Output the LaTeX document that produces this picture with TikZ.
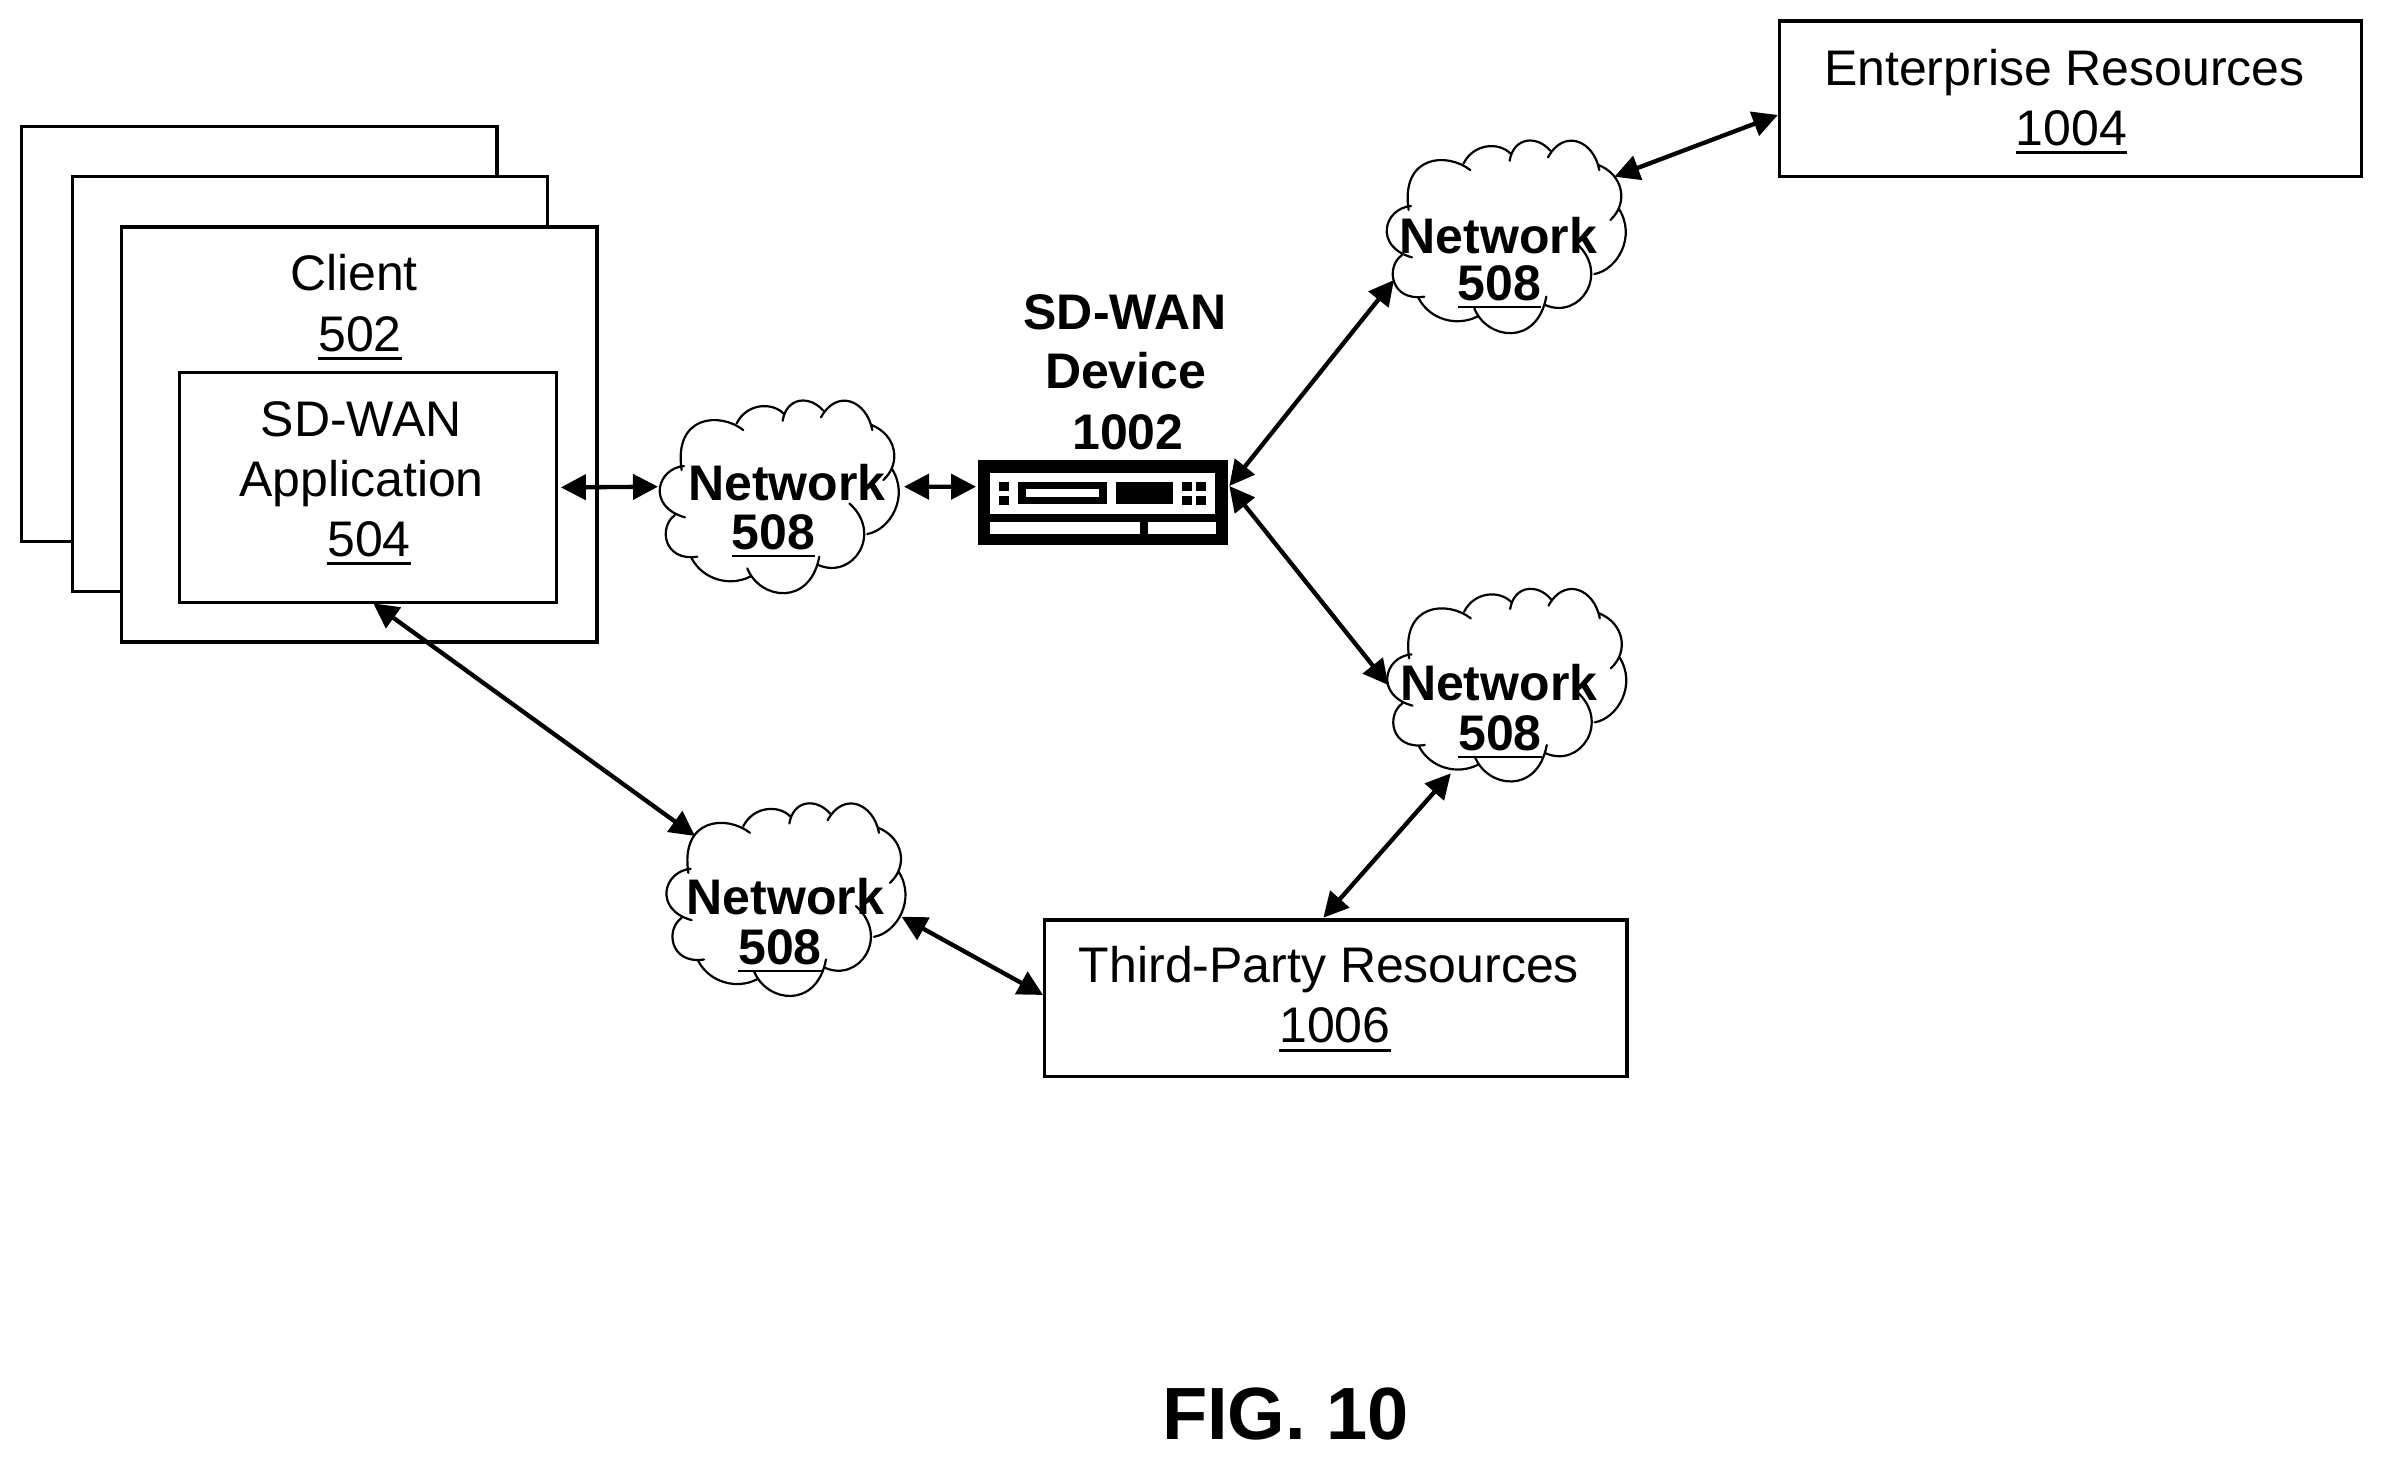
\documentclass[tikz,border=0pt]{standalone}
\usepackage{fontspec}
\setmainfont{Liberation Sans}
\usetikzlibrary{arrows.meta}
\tikzset{
  boxnode/.style={draw=black, line width=.95pt, fill=white, inner sep=0pt},
  clientbox/.style={boxnode, minimum width=142.6pt, minimum height=124.5pt},
  plainlabel/.style={anchor=base, inner sep=0pt, font=\fontsize{15}{18}\selectfont},
  boldlabel/.style={plainlabel, font=\fontsize{15}{18}\selectfont\bfseries},
  link/.style={line width=1.3pt, {Triangle[length=7.5pt,width=7.5pt]}-{Triangle[length=7.5pt,width=7.5pt]}},
  cloudline/.style={line width=.66pt, line cap=round}
}
\newcommand*{\RefNum}[2][.9pt]{\vtop{\hbox{#2}\kern1.6pt\hrule height #1}}
\newcommand*{\NetCloud}[7]{% #1 = name, #2/#3 = centre, #4/#5 = title, #6/#7 = number
  \node [minimum width=72pt, minimum height=58pt] (#1) at (#2,#3) {};
  \begin{scope}[shift={(#2,#3)}, scale=.3333, shift={(-418,-350)}]
    \draw[cloudline]
      (132,258) .. controls (50,265) and (20,380) .. (135,412)
      (105,405) .. controls (55,440) and (70,545) .. (172,530)
      (155,535) .. controls (190,600) and (270,620) .. (330,590)
      (322,565) .. controls (360,660) and (510,680) .. (538,530)
      (535,555) .. controls (640,600) and (730,460) .. (628,370)
      (682,462) .. controls (750,450) and (810,350) .. (755,265)
      (730,300) .. controls (785,250) and (770,165) .. (695,135)
      (697,150) .. controls (680,60) and (590,25) .. (543,112)
      (550,92) .. controls (510,45) and (440,50) .. (428,122)
      (430,100) .. controls (395,65) and (320,70) .. (290,130)
      (310,150) .. controls (240,95) and (100,105) .. (125,270);
  \end{scope}
  \node [boldlabel] (#1title) at (#4,#5) {Network};
  \node [boldlabel] (#1num) at (#6,#7) {\RefNum[.6pt]{508}};
}

\begin{document}
\begin{tikzpicture}[x=.3pt, y=-.3pt]
  \useasboundingbox (0,0) rectangle (2383,1461);

  % client stack
  \node [clientbox] (backA) at (259.35,333.65) {};
  \node [clientbox] (backB) at (310,384) {};
  \node [clientbox] (client) at (359.4,434.5) {};
  \node [plainlabel] (clientname) at (354,290.8) {Client};
  \node [plainlabel] (clientnum) at (360,351) {\RefNum{502}};
  \node [boxnode, minimum width=113.2pt, minimum height=69pt] (app) at (368.1,487.4) {};
  \node [plainlabel] (appname) at (361.2,436.4) {SD-WAN};
  \node [plainlabel] (appsub) at (361.5,496.4) {Application};
  \node [plainlabel] (appnum) at (369,556) {\RefNum{504}};

  % resources
  \node [boxnode, minimum width=174.5pt, minimum height=46.7pt] (enterprise) at (2070.25,98.85) {};
  \node [plainlabel] (enterprisename) at (2064.5,85) {Enterprise Resources};
  \node [plainlabel] (enterprisenum) at (2071.5,145) {\RefNum{1004}};
  \node [boxnode, minimum width=174.7pt, minimum height=47pt] (third) at (1335.85,998.35) {};
  \node [plainlabel] (thirdname) at (1329,982.8) {Third-Party Resources};
  \node [plainlabel] (thirdnum) at (1335,1042.7) {\RefNum{1006}};

  % device
  \node [fill=black, inner sep=0pt, minimum width=74.8pt, minimum height=25.5pt] (device) at (1103,502.5) {};
  \foreach \xa/\ya/\xb/\yb in {990/472.7/1215/514, 990/522/1140/534, 1148/522/1216/534}
    \fill[white] (\xa,\ya) rectangle (\xb,\yb);
  \foreach \xa/\ya/\xb/\yb in {999/482/1009.3/491, 999/496/1009.3/505, 1018/482/1106.7/504.3,
      1116/482/1172.7/504.3, 1182.3/482/1192.3/491, 1196/482/1206/491,
      1182.3/496/1192.3/505, 1196/496/1206/505}
    \fill[black] (\xa,\ya) rectangle (\xb,\yb);
  \fill[white] (1025.7,489.3) rectangle (1099,497.3);
  \node [boldlabel] (devicename) at (1125,329.5) {SD-WAN};
  \node [boldlabel] (devicesub) at (1125.7,388.5) {Device};
  \node [boldlabel] (devicenum) at (1128,449) {1002};

  % networks
  \NetCloud{netA}{779.3}{496.7}{787}{500.5}{773.5}{549.5}
  \NetCloud{netB}{1506.3}{236.7}{1498.4}{253}{1499.5}{300}
  \NetCloud{netC}{1506.8}{685}{1498.7}{700}{1500}{750}
  \NetCloud{netD}{786}{899.5}{785.5}{914.5}{780}{964.5}

  % links
  \draw[link] ([shift={(2.5,0)}]app.east) -- ([shift={(-121.3,-10)}]netA.center);
  \draw[link] ([shift={(124.7,-10)}]netA.center) -- ([shift={(-1.6,-15.8)}]device.west);
  \draw[link] ([shift={(1,-16.5)}]device.east) -- ([shift={(-112.3,43.3)}]netB.center);
  \draw[link] ([shift={(1,-16.5)}]device.east) -- ([shift={(-118.5,0)}]netC.center);
  \draw[link] ([shift={(108.1,-60)}]netB.center) -- ([shift={(0,16.1)}]enterprise.west);
  \draw[link] ([shift={(-56,88.3)}]netC.center) -- ([shift={(-12.5,-.7)}]third.north);
  \draw[link] ([shift={(0,-3.4)}]third.west) -- ([shift={(115.6,17.2)}]netD.center);
  \draw[link] ([shift={(-91,-63.5)}]netD.center) -- ([shift={(5.2,-.7)}]app.south);

  \node [anchor=base, inner sep=0pt, font=\fontsize{22.2}{26}\selectfont\bfseries] (figname) at (1285.5,1439.3) {FIG. 10};
\end{tikzpicture}
\end{document}
